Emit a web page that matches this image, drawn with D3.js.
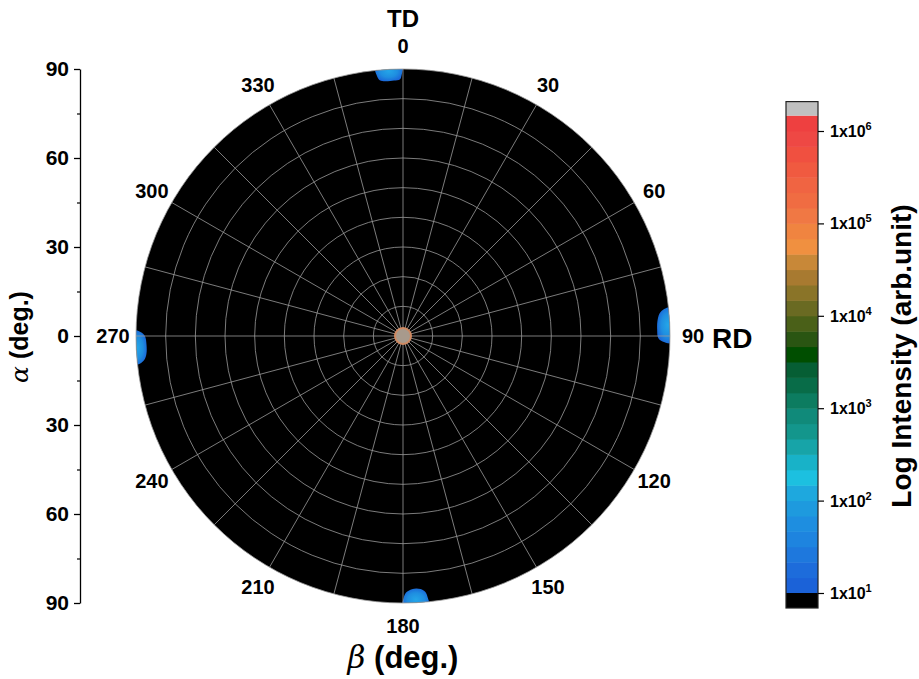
<!DOCTYPE html>
<html>
<head>
<meta charset="utf-8">
<script src="https://cdn.jsdelivr.net/npm/d3@7.9.0/dist/d3.min.js"></script>
<style>
  body { margin: 0; background: #fff; }
  svg { display: block; font-family: "Liberation Sans", Arial, sans-serif; font-weight: bold; }
</style>
</head>
<body>
<svg id="chart" width="919" height="679"></svg>
<script>
// beta labels around the pole figure
const betaTicks = [0, 30, 60, 90, 120, 150, 180, 210, 240, 270, 300, 330];
// alpha labels on the left axis (signed, printed as absolute)
const alphaTicks = [-90, -60, -30, 0, 30, 60, 90];
const alphaMinor = [-75, -45, -15, 15, 45, 75];
// grid
const gridRings = [10, 20, 30, 40, 50, 60, 70, 80, 90];
const gridSpokes = d3.range(0, 360, 15);

// intensity spots, outlines as [beta, alpha]
const spotTop = [[-5.9, 92], [-5.7, 88], [-5.2, 86.6], [-4, 86.1], [-2, 86.2], [-0.7, 86.5], [-0.3, 88], [-0.2, 92]];
const spotRight = [[83.9, 92], [84.1, 88.5], [85, 86.8], [86.7, 85.9], [88.6, 85.7], [90.4, 86], [91.2, 87.5], [91.4, 92]];
const spotBottom = [[180, 92], [179.8, 88], [179.2, 86.3], [178, 85.4], [177, 85.2], [176, 85.5], [175, 86.6], [174.6, 88.5], [174.5, 92]];
const spotLeft = [[271.1, 92], [270.9, 88.5], [270, 87], [268, 86.5], [266, 86.7], [264.7, 87.6], [264, 89.2], [263.9, 92]];
const spots = [spotTop, spotRight, spotBottom, spotLeft];

// colour bar levels, 6 per decade from 1e1
const levelColors = ["#1b62d8", "#1d6cdb", "#1e78dd", "#1e84df", "#1e8ee0", "#1e9ade", "#1ea8de", "#1cc0e0",
  "#18b2c8", "#17a4a8", "#13968c", "#108a7a", "#0c7c60", "#086c48", "#065e34", "#004e00",
  "#2a5512", "#4a6018", "#6a6a22", "#8a7428", "#a87a30", "#c88838", "#f09040", "#f08440",
  "#f07844", "#f06c42", "#f06442", "#f05a40", "#f05040", "#ee4844", "#ee4040"];
const cbarExponents = [1, 2, 3, 4, 5, 6];

const svg = d3.select("#chart");
const cx = 403, cy = 336, R = 267;

const rScale = d3.scaleLinear().domain([0, 90]).range([0, R]);
const rad = d => d * Math.PI / 180;

const defs = svg.append("defs");
defs.append("clipPath").attr("id", "disk")
  .append("circle").attr("cx", cx).attr("cy", cy).attr("r", R);
const grad = defs.append("radialGradient").attr("id", "spotGrad")
  .attr("cx", "50%").attr("cy", "50%").attr("r", "55%");
grad.append("stop").attr("offset", "0%").attr("stop-color", "#24a6e8");
grad.append("stop").attr("offset", "55%").attr("stop-color", "#1f8ee0");
grad.append("stop").attr("offset", "100%").attr("stop-color", "#1a62d8");

const plot = svg.append("g").attr("transform", `translate(${cx},${cy})`);

plot.append("circle").attr("r", R).attr("fill", "#000");

// spots
const radial = d3.lineRadial()
  .angle(d => rad(d[0]))
  .radius(d => rScale(d[1]))
  .curve(d3.curveCatmullRomClosed);

svg.append("g").attr("clip-path", "url(#disk)")
  .append("g").attr("transform", `translate(${cx},${cy})`)
  .selectAll("path").data(spots).join("path")
  .attr("d", radial)
  .attr("fill", "url(#spotGrad)");

// grid
const grid = svg.append("g").attr("transform", `translate(${cx},${cy})`);
grid.selectAll("circle").data(gridRings).join("circle")
  .attr("r", d => rScale(d))
  .attr("fill", "none").attr("stroke", "#9a9a9a").attr("stroke-width", 0.8);
grid.selectAll("line").data(gridSpokes).join("line")
  .attr("x1", 0).attr("y1", 0)
  .attr("x2", d => R * Math.sin(rad(d)))
  .attr("y2", d => -R * Math.cos(rad(d)))
  .attr("stroke", "#9a9a9a").attr("stroke-width", 0.8);

// centre peak
grid.append("circle").attr("r", 8)
  .attr("fill", "#a89a8c").attr("stroke", "#d08a62").attr("stroke-width", 2);

// beta labels
plot.selectAll("text.beta").data(betaTicks).join("text")
  .attr("class", "beta")
  .attr("x", d => (R + 23) * Math.sin(rad(d)))
  .attr("y", d => -(R + 23) * Math.cos(rad(d)))
  .attr("text-anchor", "middle").attr("dominant-baseline", "central")
  .attr("font-size", 20)
  .text(d => d);

svg.append("text").attr("x", cx).attr("y", 18)
  .attr("text-anchor", "middle").attr("dominant-baseline", "central")
  .attr("font-size", 24).text("TD");
svg.append("text").attr("x", 712).attr("y", 338)
  .attr("dominant-baseline", "central")
  .attr("font-size", 28).text("RD");

// left alpha axis
const yAlpha = d3.scaleLinear().domain([-90, 90]).range([cy + R, cy - R]);
const axisG = svg.append("g").attr("transform", "translate(80,0)")
  .call(d3.axisLeft(yAlpha).tickValues(alphaTicks).tickSize(6).tickSizeOuter(0)
    .tickFormat(d => Math.abs(d)));
axisG.selectAll("text").attr("font-size", 21).attr("font-family", "Liberation Sans, Arial")
  .attr("font-weight", "bold").attr("fill", "#000").attr("x", -11);
axisG.selectAll("line, path").attr("stroke", "#000").attr("stroke-width", 1.3);
const minorG = svg.append("g").attr("transform", "translate(80,0)")
  .call(d3.axisLeft(yAlpha).tickValues(alphaMinor).tickSize(3).tickFormat(""));
minorG.select(".domain").remove();
minorG.selectAll("line").attr("stroke", "#000").attr("stroke-width", 1.2);

svg.append("text")
  .attr("transform", "translate(19,337) rotate(-90)")
  .attr("text-anchor", "middle").attr("dominant-baseline", "central")
  .attr("font-size", 25)
  .html('<tspan font-style="italic" font-family="DejaVu Serif" font-weight="normal">α</tspan> (deg.)');

svg.append("text").attr("x", cx).attr("y", 657)
  .attr("text-anchor", "middle").attr("dominant-baseline", "central")
  .attr("font-size", 31)
  .html('<tspan font-style="italic" font-family="DejaVu Serif" font-weight="normal">β</tspan> (deg.)');

// colour bar
const cbX = 786, cbW = 32;
const yLog = d3.scaleLog().domain([1e1, 1e6]).range([593, 131]);
const step = 1 / 6;
const bands = levelColors.map((c, i) => ({
  c, lo: Math.pow(10, 1 + i * step), hi: Math.pow(10, 1 + (i + 1) * step)
}));
const cb = svg.append("g");
cb.selectAll("rect.band").data(bands).join("rect")
  .attr("class", "band")
  .attr("x", cbX).attr("width", cbW)
  .attr("y", d => yLog(d.hi)).attr("height", d => yLog(d.lo) - yLog(d.hi) + 0.5)
  .attr("fill", d => d.c);
const topY = yLog(bands[bands.length - 1].hi);
cb.append("rect").attr("x", cbX).attr("y", topY - 14).attr("width", cbW).attr("height", 14).attr("fill", "#c0c0c0");
cb.append("rect").attr("x", cbX).attr("y", 593).attr("width", cbW).attr("height", 15).attr("fill", "#000");
cb.append("rect").attr("x", cbX).attr("y", topY - 14).attr("width", cbW).attr("height", 608 - (topY - 14))
  .attr("fill", "none").attr("stroke", "#222").attr("stroke-width", 1.2);

const cbAxis = svg.append("g").attr("transform", `translate(${cbX + cbW},0)`)
  .call(d3.axisRight(yLog).tickValues(cbarExponents.map(e => Math.pow(10, e))).tickSize(6).tickFormat(""));
cbAxis.select(".domain").remove();
cbAxis.selectAll("line").attr("stroke", "#000").attr("stroke-width", 1.2);

svg.selectAll("text.cbl").data(cbarExponents).join("text")
  .attr("class", "cbl")
  .attr("x", cbX + cbW + 12).attr("y", d => yLog(Math.pow(10, d)) + 6)
  .attr("font-size", 16)
  .html(d => `1x10<tspan dy="-7" font-size="11">${d}</tspan>`);

svg.append("text")
  .attr("transform", "translate(901,356) rotate(-90)")
  .attr("text-anchor", "middle").attr("dominant-baseline", "central")
  .attr("font-size", 28)
  .text("Log Intensity (arb.unit)");
</script>
</body>
</html>
